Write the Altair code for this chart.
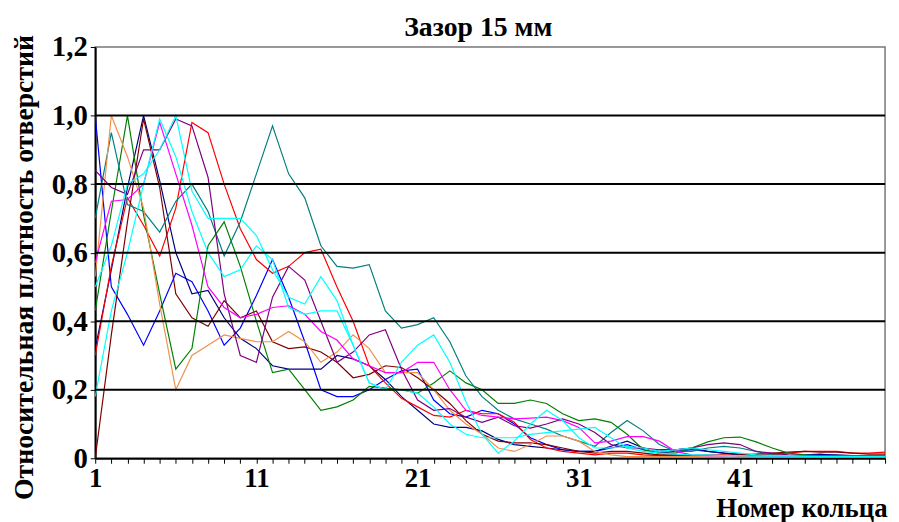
import altair as alt
import pandas as pd

rings = list(range(1, 51))

blue = [1.0, 0.5, 0.42, 0.33, 0.43, 0.54, 0.515, 0.43, 0.33, 0.38,
        0.475, 0.58, 0.47, 0.34, 0.2, 0.18, 0.18, 0.2, 0.23, 0.255,
        0.26, 0.17, 0.13, 0.12, 0.14, 0.13, 0.1, 0.06, 0.04, 0.025,
        0.02, 0.02, 0.03, 0.04, 0.025, 0.015, 0.02, 0.025, 0.02, 0.015,
        0.01, 0.01, 0.008, 0.008, 0.01, 0.012, 0.008, 0.008, 0.006, 0.006]
navy = [0.32, 0.55, 0.79, 1.0, 0.81, 0.6, 0.48, 0.49, 0.41, 0.35,
        0.32, 0.27, 0.26, 0.26, 0.26, 0.3, 0.29, 0.27, 0.23, 0.18,
        0.14, 0.1, 0.09, 0.09, 0.08, 0.055, 0.04, 0.035, 0.03, 0.025,
        0.02, 0.02, 0.035, 0.05, 0.03, 0.02, 0.025, 0.03, 0.02, 0.015,
        0.012, 0.01, 0.01, 0.008, 0.008, 0.01, 0.01, 0.008, 0.008, 0.008]
red = [0.3, 0.56, 0.76, 0.68, 0.59, 0.73, 0.98, 0.95, 0.8, 0.67,
       0.58, 0.54, 0.56, 0.6, 0.61, 0.5, 0.4, 0.27, 0.22, 0.175,
       0.15, 0.125, 0.12, 0.14, 0.13, 0.13, 0.105, 0.055, 0.03, 0.02,
       0.015, 0.01, 0.015, 0.015, 0.01, 0.008, 0.008, 0.008, 0.01, 0.01,
       0.008, 0.01, 0.012, 0.015, 0.02, 0.02, 0.02, 0.015, 0.015, 0.018]
darkred = [0.0, 0.36, 0.69, 0.99, 0.79, 0.48, 0.41, 0.385, 0.46, 0.41,
           0.43, 0.34, 0.32, 0.325, 0.31, 0.28, 0.235, 0.245, 0.27, 0.265,
           0.235, 0.2, 0.16, 0.11, 0.07, 0.05, 0.045, 0.045, 0.04, 0.03,
           0.02, 0.015, 0.02, 0.02, 0.015, 0.01, 0.01, 0.008, 0.008, 0.008,
           0.01, 0.012, 0.015, 0.018, 0.02, 0.018, 0.018, 0.015, 0.012, 0.012]
green = [0.43, 0.72, 1.0, 0.71, 0.48, 0.26, 0.32, 0.62, 0.69, 0.56,
         0.4, 0.25, 0.26, 0.2, 0.14, 0.15, 0.17, 0.21, 0.205, 0.2,
         0.19, 0.22, 0.255, 0.22, 0.2, 0.16, 0.16, 0.17, 0.16, 0.13,
         0.11, 0.115, 0.105, 0.07, 0.025, 0.015, 0.015, 0.03, 0.048, 0.06,
         0.062, 0.048, 0.03, 0.015, 0.01, 0.008, 0.008, 0.008, 0.006, 0.006]
teal = [0.7, 0.95, 0.74, 0.72, 0.66, 0.75, 0.8, 0.72, 0.59, 0.69,
        0.83, 0.97, 0.83, 0.76, 0.62, 0.56, 0.555, 0.565, 0.43, 0.38,
        0.39, 0.41, 0.34, 0.24, 0.18, 0.14, 0.115, 0.1, 0.085, 0.065,
        0.05, 0.035, 0.075, 0.11, 0.08, 0.04, 0.02, 0.02, 0.03, 0.035,
        0.03, 0.02, 0.01, 0.008, 0.006, 0.006, 0.005, 0.005, 0.005, 0.005]
orange = [0.53, 1.0, 0.88, 0.73, 0.45, 0.2, 0.3, 0.33, 0.36, 0.35,
          0.34, 0.34, 0.37, 0.34, 0.28, 0.31, 0.36, 0.32, 0.25, 0.25,
          0.25, 0.2, 0.14, 0.1, 0.07, 0.03, 0.02, 0.04, 0.065, 0.065,
          0.05, 0.02, 0.01, 0.005, 0.005, 0.005, 0.005, 0.005, 0.008, 0.008,
          0.006, 0.005, 0.005, 0.005, 0.005, 0.005, 0.005, 0.005, 0.005, 0.005]
purple = [0.84, 0.79, 0.77, 0.9, 0.9, 0.99, 0.97, 0.82, 0.48, 0.3,
          0.28, 0.47, 0.56, 0.52, 0.4, 0.28, 0.31, 0.36, 0.375, 0.26,
          0.17, 0.14, 0.145, 0.12, 0.105, 0.12, 0.095, 0.088, 0.1, 0.115,
          0.1, 0.075, 0.04, 0.03, 0.03, 0.025, 0.025, 0.03, 0.04, 0.045,
          0.04, 0.02, 0.015, 0.01, 0.008, 0.008, 0.008, 0.008, 0.008, 0.008]
magenta = [0.57, 0.75, 0.755, 0.8, 0.98, 0.83, 0.68, 0.5, 0.44, 0.41,
           0.42, 0.44, 0.445, 0.42, 0.37, 0.345, 0.29, 0.27, 0.25, 0.25,
           0.28, 0.28, 0.2, 0.14, 0.125, 0.12, 0.115, 0.117, 0.12, 0.11,
           0.09, 0.045, 0.05, 0.063, 0.063, 0.05, 0.02, 0.01, 0.008, 0.008,
           0.008, 0.008, 0.006, 0.006, 0.006, 0.006, 0.006, 0.006, 0.006, 0.006]
cyan_a = [0.18, 0.43, 0.6, 0.8, 0.99, 0.88, 0.72, 0.6, 0.53, 0.55,
          0.62, 0.58, 0.44, 0.42, 0.43, 0.43, 0.33, 0.22, 0.2, 0.2,
          0.19, 0.15, 0.1, 0.07, 0.06, 0.06, 0.06, 0.07, 0.075, 0.08,
          0.085, 0.09, 0.06, 0.03, 0.02, 0.015, 0.012, 0.01, 0.01, 0.008,
          0.008, 0.006, 0.006, 0.006, 0.006, 0.005, 0.005, 0.005, 0.005, 0.005]
cyan_b = [0.5, 0.62, 0.8, 0.83, 0.9, 1.0, 0.78, 0.7, 0.7, 0.7,
          0.65, 0.55, 0.47, 0.45, 0.53, 0.46, 0.33, 0.22, 0.2, 0.28,
          0.33, 0.36, 0.28, 0.165, 0.07, 0.015, 0.05, 0.1, 0.14, 0.11,
          0.06, 0.03, 0.03, 0.035, 0.03, 0.02, 0.025, 0.03, 0.025, 0.02,
          0.015, 0.01, 0.008, 0.008, 0.006, 0.006, 0.006, 0.006, 0.006, 0.006]

series = {
    "s1": blue, "s2": navy, "s3": red, "s4": darkred, "s5": green,
    "s6": teal, "s7": orange, "s8": purple, "s9": magenta,
    "s10": cyan_a, "s11": cyan_b,
}
series_colors = ["#0000FF", "#000080", "#FF0000", "#800000", "#008000",
                 "#008080", "#F0904A", "#800080", "#FF00FF", "#00FFFF", "#00FFFF"]

gridlines = [0.2, 0.4, 0.6, 0.8, 1.0]
y_ticks = [0, 0.2, 0.4, 0.6, 0.8, 1.0, 1.2]

rows = []
for name, vals in series.items():
    for xi, v in zip(rings, vals):
        rows.append({"x": xi, "v": v, "s": name})
df = pd.DataFrame(rows)

FONT = "Liberation Serif"
y_scale = alt.Scale(domain=[0, 1.2], nice=False, zero=True)
x_scale = alt.Scale(domain=[1, 50], nice=False, zero=False)

y_axis = alt.Axis(
    values=y_ticks,
    labelExpr="datum.value == 0 ? '0' : replace(format(datum.value, '.1f'), '.', ',')",
    labelFont=FONT, labelFontSize=29, labelFontWeight="bold", labelColor="black",
    labelPadding=3,
    tickSize=5, tickColor="black",
    domainColor="black", domainWidth=2, grid=False,
    title="Относительная плотность отверстий", titleFont=FONT, titleFontSize=28,
    titleFontWeight="bold", titleColor="black", titleAngle=270,
    titleX=-71, titleY=222, titleAlign="center", titleBaseline="middle",
)

x_axis = alt.Axis(
    values=rings,
    labelExpr="(datum.value - 1) % 10 == 0 ? datum.label : ''",
    labelOverlap=False, labelFlush=False,
    labelFont=FONT, labelFontSize=27, labelFontWeight="bold", labelColor="black",
    labelPadding=2,
    tickSize=5, tickColor="black", tickWidth=1,
    domainColor="black", domainWidth=2, grid=False,
    title="Номер кольца", titleFont=FONT, titleFontSize=27, titleFontWeight="bold",
    titleColor="black", titleX=799, titleY=51, titleAlign="right",
    titleBaseline="middle",
)

lines = alt.Chart(df).mark_line(strokeWidth=1.2, clip=True).encode(
    x=alt.X("x:Q", scale=x_scale, axis=x_axis),
    y=alt.Y("v:Q", scale=y_scale, axis=y_axis, title="Относительная плотность отверстий"),
    color=alt.Color("s:N", scale=alt.Scale(domain=list(series.keys()), range=series_colors),
                    legend=None),
)

grid = alt.Chart(pd.DataFrame({"v": gridlines})).mark_rule(
    color="black", strokeWidth=2
).encode(y=alt.Y("v:Q", scale=y_scale, axis=y_axis, title="Относительная плотность отверстий"))

chart = alt.layer(lines, grid).properties(
    width=797, height=415,
    padding={"left": 88, "top": 37, "right": 6, "bottom": 70},
    autosize=alt.AutoSizeParams(type="none"),
    title=alt.TitleParams(text="Зазор 15 мм", font=FONT, fontSize=28, fontWeight="bold",
                          color="black", anchor="middle", frame="group", offset=10,
                          dx=-12, dy=19),
    background="white",
).configure_view(stroke="#777777", strokeWidth=1.5)

chart.save("out.html", embed_options={"renderer": "svg", "actions": False})
